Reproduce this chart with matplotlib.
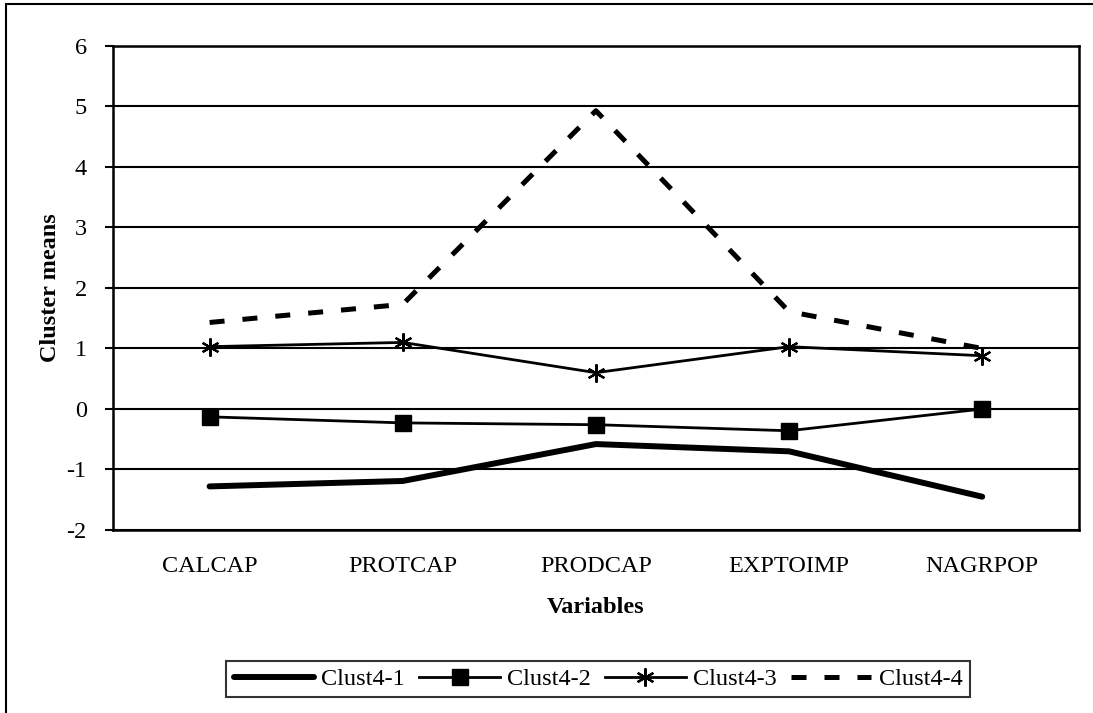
import matplotlib.pyplot as plt
from matplotlib.patches import Rectangle

# cluster means per variable
variables = ['CALCAP', 'PROTCAP', 'PRODCAP', 'EXPTOIMP', 'NAGRPOP']
clust1 = [-1.28, -1.19, -0.58, -0.70, -1.45]
clust2 = [-0.13, -0.23, -0.26, -0.36, 0.00]
clust3 = [1.03, 1.10, 0.60, 1.03, 0.88]
clust4 = [1.43, 1.73, 4.93, 1.61, 1.00]
yticks = [-2, -1, 0, 1, 2, 3, 4, 5, 6]

plt.rcParams['font.family'] = ['Liberation Serif', 'DejaVu Serif']
fs = 17.5

fig = plt.figure(figsize=(10.93, 7.13), dpi=100)
fig.patches.append(Rectangle((6 / 1093, -0.01), 1.02, 1 - 4 / 713 + 0.01,
                             transform=fig.transFigure, fill=False,
                             edgecolor='black', linewidth=1.5))
ax = fig.add_axes([0.1034, 0.2567, 0.8836, 0.6788])

x = range(len(variables))
ax.plot(x, clust1, color='black', lw=4.3, solid_capstyle='round', label='Clust4-1')
ax.plot(x, clust2, color='black', lw=2.0, marker='s', markersize=12, label='Clust4-2')
ax.plot(x, clust3, color='black', lw=2.0, marker=(6, 2, 0), markersize=13,
        markeredgewidth=1.6, label='Clust4-3')
ax.plot(x, clust4, color='black', lw=3.6, dashes=(3, 3.6), dash_capstyle='butt',
        label='Clust4-4')

ax.set_xlim(-0.5, len(variables) - 0.5)
ax.set_ylim(-2, 6)
ax.set_yticks(yticks)
ax.set_yticklabels([str(t) for t in yticks])
ax.set_xticks(list(x))
ax.set_xticklabels(variables)
ax.yaxis.grid(True, color='black', linewidth=1.5)
ax.set_axisbelow(True)
ax.tick_params(axis='x', length=0, pad=19, labelsize=fs)
ax.tick_params(axis='y', length=6, width=1.5, direction='out', pad=13, labelsize=fs)
for s in ax.spines.values():
    s.set_linewidth(1.8)

ax.set_xlabel('Variables', fontsize=fs, fontweight='bold', labelpad=14)
ax.set_ylabel('Cluster means', fontsize=fs, fontweight='bold', labelpad=4)

leg = ax.legend(loc='center', bbox_to_anchor=(598 / 1093, 1 - 679 / 713),
                bbox_transform=fig.transFigure, ncol=4, fontsize=fs,
                frameon=True, fancybox=False, edgecolor='black',
                handlelength=3.3, handletextpad=0.3, columnspacing=0.6,
                borderpad=0.3, borderaxespad=0)
leg.get_frame().set_linewidth(1.5)

fig.savefig('out.png', dpi=100)
